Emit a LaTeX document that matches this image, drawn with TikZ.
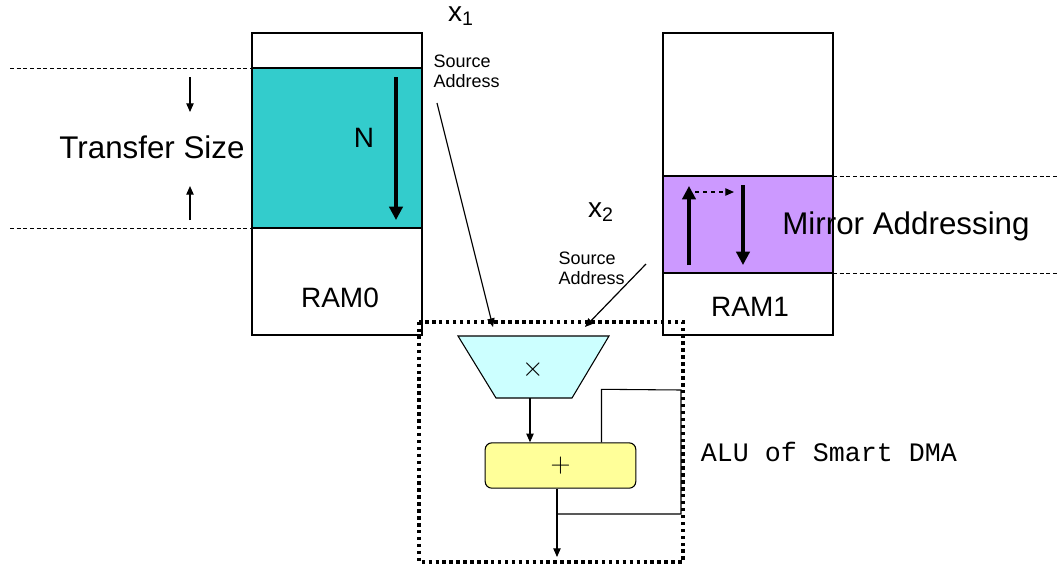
\documentclass[tikz,border=0pt]{standalone}
\usepackage{fontspec}
\setmainfont{Liberation Sans}
\newfontfamily\alufont{Liberation Mono}
\usetikzlibrary{arrows,arrows.meta,positioning}
\definecolor{ramteal}{HTML}{33CCCC}
\definecolor{rampurple}{HTML}{CC99FF}
\definecolor{mulcyan}{HTML}{CCFFFF}
\definecolor{addyellow}{HTML}{FFFF99}

\begin{document}
\begin{tikzpicture}[x=0.75pt,y=-0.75pt, line width=0.8pt,
    big/.style={font=\fontsize{23.5}{27}\selectfont},
    ramlbl/.style={font=\fontsize{21}{25}\selectfont},
    srclbl/.style={font=\fontsize{13.5}{15}\selectfont, align=left, inner sep=0pt},
    xlbl/.style={font=\fontsize{21}{24}\selectfont},
    guide/.style={dash pattern=on 3pt off 2pt, line width=0.6pt},
    fat/.style={line width=2.3pt, -{Triangle[length=10pt,width=10pt]}},
    thin arrow/.style={line width=0.9pt, -{Triangle[length=6.5pt,width=5.5pt]}}]
  \useasboundingbox (0,0) rectangle (1058,565);
  % RAM0 with the transfer window
  \draw[fill=white] (252,33) rectangle (422,335);
  \filldraw[fill=ramteal] (252,68) rectangle (422,228);
  \draw[guide] (10,68) -- (252,68);
  \draw[guide] (10,228) -- (252,228);
  \node[big] (tsize) at (152,147) {Transfer Size};
  \coordinate (tsdown) at (190,77);
  \coordinate (tsup) at (190,220);
  \draw[thin arrow] (tsdown) -- ++(0,35);
  \draw[thin arrow] (tsup) -- ++(0,-34);
  \node[ramlbl] (nlbl) at (364,138) {N};
  \coordinate (ntop) at (396,77);
  \coordinate (nbot) at (396,220);
  \draw[fat] (ntop) -- (nbot);
  \node[ramlbl] (ram0) at (340,298) {RAM0};
  % RAM1 with mirror addressing
  \draw[fill=white] (663,33) rectangle (833,335);
  \filldraw[fill=rampurple] (663,176) rectangle (833,273);
  \draw[guide] (833,176) -- (1058,176);
  \draw[guide] (833,273) -- (1058,273);
  \coordinate (upbot) at (689,265);
  \coordinate (uptop) at (689,186);
  \coordinate (dntop) at (743,185);
  \coordinate (dnbot) at (743,265);
  \draw[fat] (upbot) -- (uptop);
  \draw[fat] (dntop) -- (dnbot);
  \draw[dashed, thin arrow] (695,192) -- (734,192);
  \node[big] (mirror) at (906,226) {Mirror Addressing};
  \node[ramlbl] (ram1) at (750,307) {RAM1};
  % operands
  \node[xlbl] (x1) at (461,16) {x\textsubscript{1}};
  \node[srclbl, anchor=west] (src1) at (433,71) {Source\\Address};
  \node[xlbl] (x2) at (601,212) {x\textsubscript{2}};
  \node[srclbl, anchor=west] (src2) at (558,268) {Source\\Address};
  \coordinate (in1) at (493,327);
  \coordinate (in2) at (585,327);
  \draw[thin arrow] (437,103) -- (in1);
  \draw[thin arrow] (646,264) -- (in2);
  % ALU
  \draw[line width=2.6pt, dash pattern=on 2.6pt off 2.6pt] (419,322) rectangle (683,562);
  \filldraw[fill=mulcyan] (458,336) -- (609,336) -- (572,398) -- (496,398) -- cycle;
  \node[font=\fontsize{20}{22}\selectfont] (mul) at (533,370) {$\times$};
  \coordinate (mulout) at (530,398);
  \node[draw, fill=addyellow, rounded corners=5pt, minimum width=113pt,
        minimum height=34pt, font=\fontsize{20}{22}\selectfont] (add) at (560.5,465.5) {$+$};
  \draw[thin arrow] (mulout) -- (mulout |- add.north);
  \coordinate (tap) at (557,514);
  \coordinate (out) at (557,557);
  \draw ([xshift=30.75pt]add.north) -- ++(0,-53) -- (681,390) -- (681,514) -- (tap);
  \draw[thin arrow] (add.south -| tap) -- (out);
  \node[font=\alufont\fontsize{20}{24}\selectfont, anchor=west] (alu) at (696,452) {ALU of Smart DMA};
\end{tikzpicture}
\end{document}
